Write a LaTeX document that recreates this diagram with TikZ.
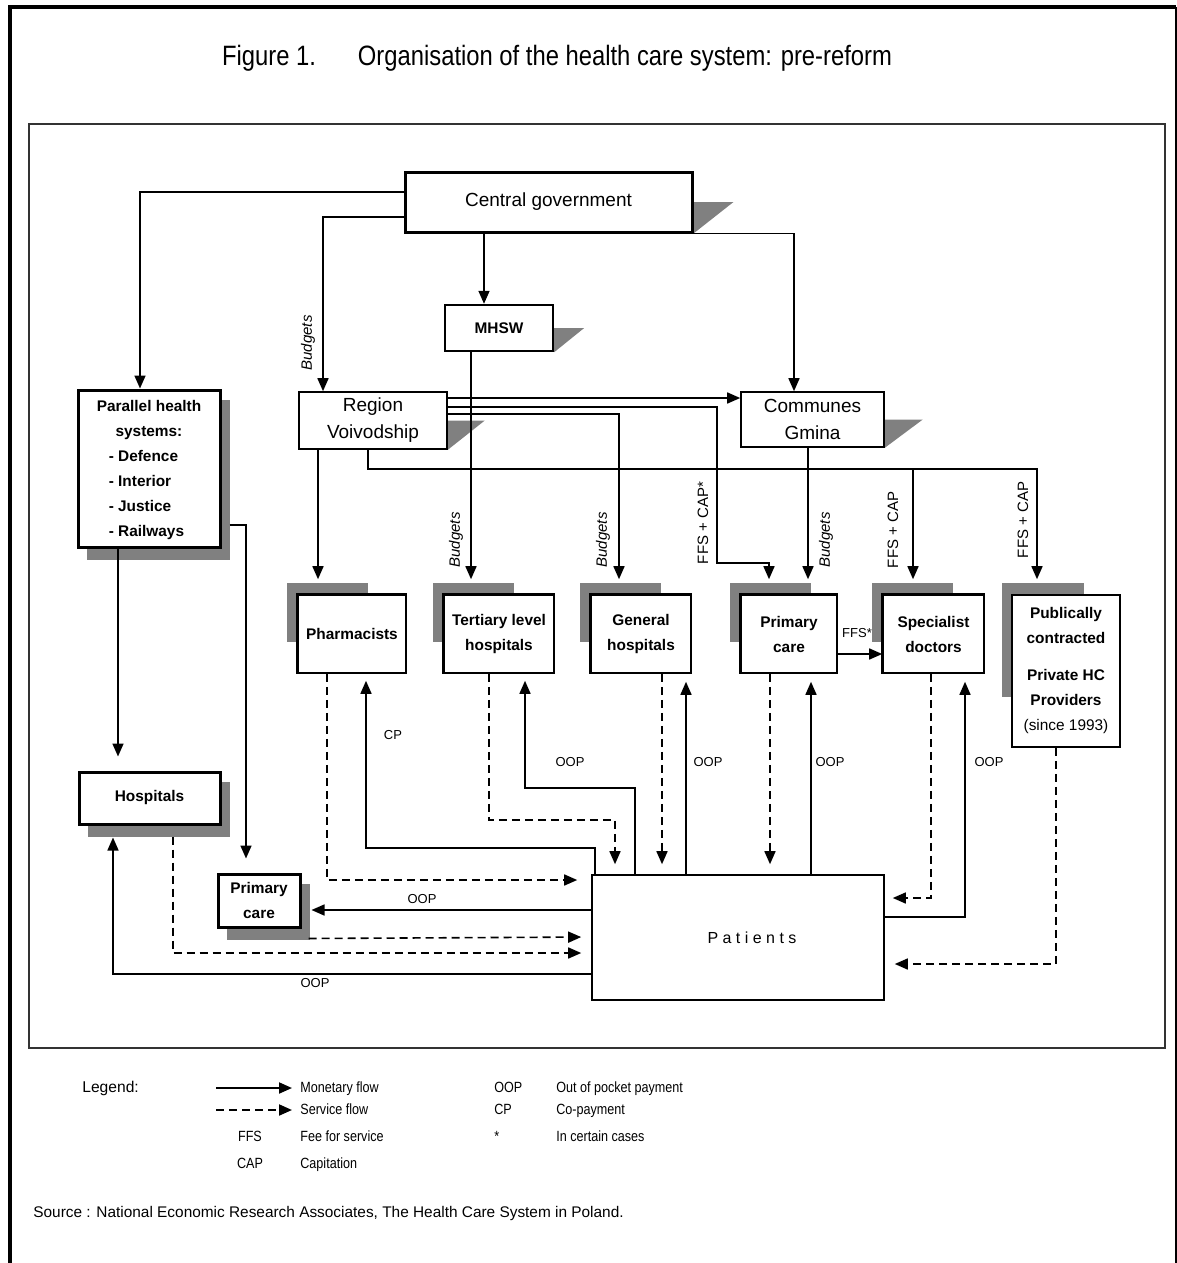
\documentclass[tikz,border=0pt]{standalone}
\usepackage{fontspec}
\setmainfont{Liberation Sans}
\newfontfamily\narrowfont[FakeStretch=0.85]{Liberation Sans}
\usetikzlibrary{arrows.meta,backgrounds}
\tikzset{
  box/.style = {draw=black, fill=white, line width=0.8pt, inner sep=0pt, align=center},
  topbox/.style = {box, font=\fontsize{9.5}{13.5}\selectfont},
  hcbox/.style = {box, font=\bfseries\fontsize{7.7}{12.5}\selectfont},
  lbl/.style = {font=\fontsize{6.5}{7}\selectfont, inner sep=0pt},
  budg/.style = {font=\itshape\fontsize{7.5}{8}\selectfont, rotate=90, inner sep=0pt},
  pay/.style = {font=\fontsize{7.5}{8}\selectfont, rotate=90, inner sep=0pt},
  legtxt/.style = {font=\narrowfont\fontsize{7.4}{9}\selectfont, inner sep=0pt, anchor=west,
    text height=5.5pt, text depth=1.5pt},
  money/.style = {draw, line width=0.8pt, -{Triangle[length=6.5pt,width=5.5pt]}},
  service/.style = {money, dash pattern=on 4pt off 2.5pt},
  shadowfill/.style = {fill=black!50},
}

\begin{document}
\begin{tikzpicture}[x=0.5pt, y=-0.5pt]
\useasboundingbox (0,0) rectangle (1177,1263);
% frames and title
\draw[line width=2pt] (9.5,1263) -- (9.5,7.5) -- (1176,7.5);
\draw[line width=1pt] (1176,7.5) -- (1176,1263);
\draw[line width=1pt, black!80] (29,124) rectangle (1165,1048);
\node[font=\narrowfont\fontsize{14}{16}\selectfont] (title) at (557,58)
  {Figure 1.\hspace{1.5em}Organisation of the health care system: pre-reform};

% top level
\node[topbox, line width=1.5pt, minimum width=143.5pt, minimum height=30pt] (cg) at (548.5,202) {Central government};
\node[hcbox, line width=1.2pt, minimum width=54pt, minimum height=23pt] (mhsw) at (499,328) {MHSW};
\node[topbox, minimum width=74pt, minimum height=28.5pt] (region) at (373,420.5) {Region\\Voivodship};
\node[topbox, minimum width=71.5pt, minimum height=27.5pt] (communes) at (812.5,419.5) {Communes\\Gmina};
\node[hcbox, line width=1.5pt, minimum width=71pt, minimum height=78.5pt] (par) at (149,468.5)
  {\begin{tabular}{@{}l@{}}\multicolumn{1}{@{}c@{}}{Parallel health}\\\multicolumn{1}{@{}c@{}}{systems:}\\\hspace{6pt}- Defence\\\hspace{6pt}- Interior\\\hspace{6pt}- Justice\\\hspace{6pt}- Railways\end{tabular}};

% providers
\node[hcbox, minimum width=54pt, minimum height=39pt] (pharm) at (352,634) {Pharmacists};
\node[hcbox, minimum width=55pt, minimum height=39pt] (tert) at (499,634) {Tertiary level\\hospitals};
\node[hcbox, minimum width=50pt, minimum height=39pt] (genh) at (641,634) {General\\hospitals};
\node[hcbox, minimum width=48pt, minimum height=39pt] (prim) at (789,634) {Primary\\care};
\node[hcbox, minimum width=50.5pt, minimum height=39pt] (spec) at (933.5,634) {Specialist\\doctors};
\node[hcbox, minimum width=54pt, minimum height=76pt] (priv) at (1066,671)
  {Publically\\contracted\\[6pt]Private HC\\Providers\\\mdseries(since 1993)};
\foreach \n in {pharm,tert,genh,prim,spec}
  \draw[line width=1.6pt] (\n.south west) -- (\n.north west) -- (\n.north east);

\node[hcbox, line width=1.5pt, minimum width=70.5pt, minimum height=26pt] (hosp) at (149.5,798) {Hospitals};
\node[hcbox, line width=1.5pt, minimum width=41pt, minimum height=26.5pt] (pcl) at (259,900.5) {Primary\\care};
\node[box, font=\fontsize{8}{10}\selectfont, minimum width=146pt, minimum height=62.5pt] (pat) at (738,937.5)
  {\hspace*{14pt}P a t i e n t s};

% shadows
\begin{scope}[on background layer]
  \foreach \n in {pharm,tert,genh,prim,spec}
    \fill[shadowfill] ([shift={(-10,-11)}]\n.north west) rectangle ++(81,59);
  \fill[shadowfill] ([shift={(-9,-11)}]priv.north west) rectangle ++(82,114);
  \foreach \n in {par,hosp,pcl}
    \fill[shadowfill] ([shift={(10,11)}]\n.north west) rectangle ([shift={(8,11)}]\n.south east);
  \foreach \n/\w in {cg/40,mhsw/30,region/37,communes/38}
    \fill[shadowfill] (\n.east) -- ++(\w,0) -- (\n.south east) -- cycle;
\end{scope}

% funding
\draw[money] (cg.west |- 0,192) -| (140,0 |- par.north);
\draw[money] (cg.west |- 0,217) -| (323,0 |- region.north);
\node[budg] (b1) at (308,343) {Budgets};
\draw[money] (484,0 |- cg.south) -- (484,0 |- mhsw.north);
\draw[money] (cg.south east) -| (794,0 |- communes.north);
\draw[money, shorten >=7.5pt] (471,0 |- mhsw.south) -- (471,0 |- tert.north);
\node[budg] (b2) at (456,540) {Budgets};
\draw[money] (region.east |- 0,398) -- (communes.west |- 0,398);
\draw[money, shorten >=7.5pt] (region.east |- 0,407) -| (717,563) -| (769,0 |- prim.north);
\node[pay] (f1) at (703,523) {FFS + CAP*};
\draw[money, shorten >=7.5pt] (region.east |- 0,414) -| (619,0 |- genh.north);
\node[budg] (b3) at (603,540) {Budgets};
\draw[money, shorten >=7.5pt] (318,0 |- region.south) -- (318,0 |- pharm.north);
\draw[money, shorten >=7.5pt] (368,0 |- region.south) |- (1037,469) -- (1037,0 |- priv.north);
\coordinate (j1) at (913,469);
\draw[money, shorten >=7.5pt] (j1) -- (913,0 |- spec.north);
\node[pay] (f2) at (893,530) {FFS + CAP};
\node[pay] (f3) at (1023,520) {FFS + CAP};
\draw[money, shorten >=7.5pt] (808,0 |- communes.south) -- (808,0 |- prim.north);
\node[budg] (b4) at (826,540) {Budgets};
\draw[money] (prim.east |- 0,654) -- (spec.west |- 0,654);
\node[lbl] (ffs) at (857,633) {FFS*};
\draw[money, shorten >=7pt] (118,0 |- par.south) -- (118,0 |- hosp.north);
\draw[money, shorten <=4pt, shorten >=7pt] (par.east |- 0,525) -| (246,0 |- pcl.north);

% patients and providers
\draw[service, shorten >=7pt] (327,0 |- pharm.south) |- (pat.west |- 0,880);
\draw[money, shorten >=3.5pt] (595,0 |- pat.north) |- (366,848) -- (366,0 |- pharm.south);
\node[lbl] (cp) at (393,735) {CP};
\draw[service, shorten >=5pt] (489,0 |- tert.south) |- (615,820) -- (615,0 |- pat.north);
\draw[money, shorten >=3.5pt] (635,0 |- pat.north) |- (525,788) -- (525,0 |- tert.south);
\node[lbl] (o1) at (570,762) {OOP};
\draw[service, shorten >=5pt] (662,0 |- genh.south) -- (662,0 |- pat.north);
\draw[money, shorten >=4pt] (686,0 |- pat.north) -- (686,0 |- genh.south);
\node[lbl] (o2) at (708,762) {OOP};
\draw[service, shorten >=5pt] (770,0 |- prim.south) -- (770,0 |- pat.north);
\draw[money, shorten >=4pt] (811,0 |- pat.north) -- (811,0 |- prim.south);
\node[lbl] (o3) at (830,762) {OOP};
\draw[service, shorten >=4pt] (931,0 |- spec.south) |- (pat.east |- 0,898);
\draw[money, shorten >=4pt] (pat.east |- 0,917) -| (965,0 |- spec.south);
\node[lbl] (o4) at (989,762) {OOP};
\draw[service, shorten >=5pt] (1056,0 |- priv.south) |- (pat.east |- 0,964);
\draw[money, shorten >=5pt] (pat.west |- 0,910) -- (pcl.east |- 0,910);
\node[lbl] (o5) at (422,899) {OOP};
\draw[service, shorten >=5pt] ([shift={(7,10)}]pcl.south east) -- (pat.west |- 0,937);
\draw[service, shorten <=5.5pt, shorten >=5pt] (173,0 |- hosp.south) |- (pat.west |- 0,953);
\draw[money, shorten >=6pt] (pat.west |- 0,974) -| (113,0 |- hosp.south);
\node[lbl] (o6) at (315,983) {OOP};

% legend
\node[legtxt, font=\fontsize{7.8}{9}\selectfont] (leg) at (82,1088) {Legend:};
\node[legtxt] (mon) at (300,1088) {Monetary flow};
\node[legtxt] (serv) at (300,1110) {Service flow};
\node[legtxt] (fee) at (300,1137) {Fee for service};
\node[legtxt] (capi) at (300,1164) {Capitation};
\draw[money, line width=1pt, shorten >=4pt] ([xshift=-42pt]mon.west) -- (mon.west);
\draw[service, line width=1pt, shorten >=4pt] ([xshift=-42pt]serv.west) -- (serv.west);
\node[legtxt, anchor=center] (ffsk) at (250,1137) {FFS};
\node[legtxt, anchor=center] (capk) at (250,1164) {CAP};
\node[legtxt] (oopk) at (494,1088) {OOP};
\node[legtxt] (cpk) at (494,1110) {CP};
\node[legtxt] (stk) at (494,1137) {*};
\node[legtxt] (oopd) at (556,1088) {Out of pocket payment};
\node[legtxt] (cpd) at (556,1110) {Co-payment};
\node[legtxt] (std) at (556,1137) {In certain cases};
\node[legtxt, font=\fontsize{7.7}{9}\selectfont] (src) at (33,1213)
  {Source : National Economic Research Associates, The Health Care System in Poland.};
\end{tikzpicture}
\end{document}
